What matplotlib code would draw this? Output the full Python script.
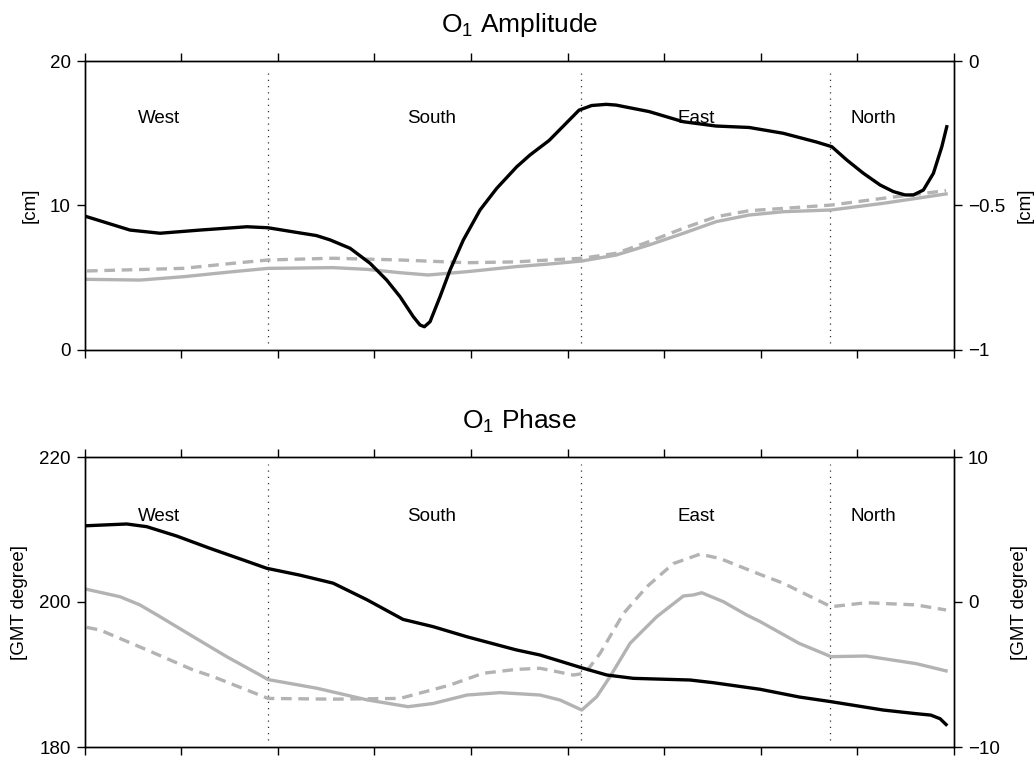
import matplotlib
matplotlib.use("Agg")
import matplotlib.pyplot as plt

plt.rcParams['font.family'] = ['Liberation Sans', 'DejaVu Sans']
plt.rcParams['mathtext.fontset'] = 'custom'
plt.rcParams['mathtext.rm'] = 'Liberation Sans'
plt.rcParams['mathtext.it'] = 'Liberation Sans'

# ---------------- data ----------------
regions = ["West", "South", "East", "North"]
region_x = [0.771, 3.597, 6.33, 8.17]
boundaries = [1.90, 5.14, 7.72]

# Amplitude panel (left-axis units, cm)
amp_black_x = [0.026, 0.471, 0.782, 1.196, 1.682, 1.900, 2.231, 2.400, 2.542, 2.749, 2.956,
               3.128, 3.266, 3.404, 3.473, 3.518, 3.577, 3.680, 3.784, 3.921, 4.094,
               4.267, 4.474, 4.612, 4.809, 5.119, 5.250, 5.399, 5.502, 5.844, 6.196,
               6.537, 6.879, 7.231, 7.573, 7.735, 7.890, 8.062, 8.235, 8.373, 8.494,
               8.580, 8.683, 8.787, 8.874, 8.925]
amp_black_y = [9.22, 8.30, 8.08, 8.30, 8.53, 8.46, 8.10, 7.92, 7.62, 7.04, 6.00,
               4.84, 3.69, 2.30, 1.73, 1.61, 1.96, 3.69, 5.54, 7.61, 9.69,
               11.19, 12.68, 13.50, 14.50, 16.60, 16.92, 17.00, 16.95, 16.50, 15.80,
               15.50, 15.40, 15.00, 14.40, 14.07, 13.15, 12.23, 11.42, 10.96, 10.73,
               10.73, 11.07, 12.23, 14.07, 15.45]

amp_solid_x = [0.026, 0.575, 1.020, 1.537, 1.900, 2.573, 2.925, 3.266, 3.556, 3.960,
               4.467, 4.809, 5.150, 5.502, 5.844, 6.196, 6.537, 6.879, 7.231, 7.728,
               8.266, 8.918]
amp_solid_y = [4.89, 4.84, 5.07, 5.42, 5.65, 5.70, 5.58, 5.35, 5.19, 5.42,
               5.77, 5.95, 6.16, 6.57, 7.27, 8.07, 8.88, 9.34, 9.57, 9.69,
               10.15, 10.80]

amp_dash_x = [0.026, 1.020, 1.537, 1.900, 2.573, 3.266, 3.960, 4.467, 4.809, 5.150,
              5.502, 5.844, 6.196, 6.537, 6.879, 7.231, 7.728, 8.266, 8.918]
amp_dash_y = [5.47, 5.65, 6.00, 6.23, 6.35, 6.23, 6.04, 6.10, 6.23, 6.35,
              6.69, 7.50, 8.42, 9.22, 9.64, 9.80, 10.03, 10.50, 11.03]

# Phase panel (left-axis units, GMT degree)
ph_black_x = [0.023, 0.437, 0.644, 0.954, 1.299, 1.644, 1.886, 2.231, 2.573, 2.925,
              3.297, 3.608, 3.960, 4.467, 4.715, 5.163, 5.406, 5.681, 6.268, 6.509,
              6.993, 7.396, 7.728, 8.266, 8.607, 8.760, 8.856, 8.918]
ph_black_y = [210.52, 210.76, 210.39, 209.10, 207.40, 205.79, 204.65, 203.70, 202.60, 200.30,
              197.60, 196.60, 195.20, 193.40, 192.69, 190.86, 189.93, 189.47, 189.24, 188.87,
              187.96, 186.90, 186.25, 185.10, 184.60, 184.40, 183.90, 183.10]

ph_solid_x = [0.023, 0.367, 0.575, 0.782, 1.126, 1.472, 1.817, 1.900, 2.407, 2.925,
              3.349, 3.608, 3.960, 4.301, 4.715, 4.922, 5.147, 5.302, 5.440, 5.647,
              5.923, 6.199, 6.302, 6.389, 6.613, 6.855, 6.993, 7.396, 7.728, 8.090,
              8.607, 8.918]
ph_solid_y = [201.75, 200.73, 199.59, 197.97, 195.21, 192.46, 189.93, 189.30, 188.10, 186.50,
              185.56, 186.00, 187.17, 187.50, 187.17, 186.48, 185.10, 186.94, 189.70, 194.30,
              197.97, 200.83, 200.97, 201.28, 200.04, 198.20, 197.30, 194.30, 192.46, 192.55,
              191.50, 190.50]

ph_dash_x = [0.023, 0.160, 0.609, 1.126, 1.333, 1.900, 2.573, 3.266, 3.784, 4.125,
             4.467, 4.715, 5.060, 5.181, 5.336, 5.578, 5.820, 6.095, 6.371, 6.578,
             6.993, 7.231, 7.728, 8.090, 8.607, 8.918]
ph_dash_y = [196.50, 196.14, 193.60, 190.62, 189.70, 186.70, 186.60, 186.70, 188.55, 190.17,
             190.70, 190.86, 189.93, 190.17, 192.90, 198.40, 202.10, 205.30, 206.60, 206.00,
             203.80, 202.60, 199.35, 199.90, 199.60, 198.90]

x_ticks = list(range(10))

amp_left_ticks = [0, 10, 20]
amp_right_ticks = [-1, -0.5, 0]
amp_right_labels = ["\u22121", "\u22120.5", "0"]
ph_left_ticks = [180, 200, 220]
ph_right_ticks = [-10, 0, 10]
ph_right_labels = ["\u221210", "0", "10"]

# ---------------- figure ----------------
fig = plt.figure(figsize=(10.36, 7.57), dpi=100)
W, H = 1036, 757
L, R = 84.5, 954

GRAY = "#b3b3b3"
lw_black = 2.4
lw_gray = 2.4
DASH = (0, (3.2, 2.0))
FS = 13.5

def setup(ax, ylim, lticks, rlim, rticks, rlabels, ylabel):
    ax.set_xlim(0, 9)
    ax.set_ylim(*ylim)
    ax.set_xticks(x_ticks)
    ax.set_xticklabels([])
    ax.set_yticks(lticks)
    ax.set_yticklabels([str(t) for t in lticks])
    ax.tick_params(axis='x', which='both', direction='out', length=6, width=1,
                   top=True, bottom=True, labelbottom=False, labeltop=False)
    ax.tick_params(axis='y', direction='out', length=6, width=1, labelsize=FS, pad=4)
    for s in ax.spines.values():
        s.set_linewidth(1.0)
    ax.set_ylabel(ylabel, fontsize=FS, labelpad=8)
    ax2 = ax.twinx()
    ax2.set_ylim(*rlim)
    ax2.set_yticks(rticks)
    ax2.set_yticklabels(rlabels)
    ax2.tick_params(axis='y', direction='out', length=6, width=1, labelsize=FS, pad=4)
    ax2.set_ylabel(ylabel, fontsize=FS, labelpad=8)
    for s in ax2.spines.values():
        s.set_linewidth(1.0)
    return ax2

# Top panel
ax1 = fig.add_axes([L / W, 1 - 350 / H, (R - L) / W, 289 / H])
setup(ax1, (0, 20), amp_left_ticks, (-1, 0), amp_right_ticks, amp_right_labels, "[cm]")
for b in boundaries:
    ax1.axvline(b, ymin=0.025, ymax=0.975, color="#333333", lw=0.9, ls=(0, (1, 4)))
ax1.plot(amp_solid_x, amp_solid_y, color=GRAY, lw=lw_gray)
ax1.plot(amp_dash_x, amp_dash_y, color=GRAY, lw=lw_gray, ls=DASH)
ax1.plot(amp_black_x, amp_black_y, color="black", lw=lw_black)
for name, xr in zip(regions, region_x):
    ax1.text(xr, 16, name, ha='center', va='center', fontsize=FS)
ax1.text(0.5, 1.0 + 36 / 289, r"O$_1$ Amplitude", transform=ax1.transAxes,
         ha='center', va='center', fontsize=19)

# Bottom panel
ax3 = fig.add_axes([L / W, 1 - 747 / H, (R - L) / W, 290 / H])
setup(ax3, (180, 220), ph_left_ticks, (-10, 10), ph_right_ticks, ph_right_labels, "[GMT degree]")
for b in boundaries:
    ax3.axvline(b, ymin=0.025, ymax=0.975, color="#333333", lw=0.9, ls=(0, (1, 4)))
ax3.plot(ph_solid_x, ph_solid_y, color=GRAY, lw=lw_gray)
ax3.plot(ph_dash_x, ph_dash_y, color=GRAY, lw=lw_gray, ls=DASH)
ax3.plot(ph_black_x, ph_black_y, color="black", lw=lw_black)
for name, xr in zip(regions, region_x):
    ax3.text(xr, 211.86, name, ha='center', va='center', fontsize=FS)
ax3.text(0.5, 1.0 + 36 / 290, r"O$_1$ Phase", transform=ax3.transAxes,
         ha='center', va='center', fontsize=19)

fig.savefig("out.png", dpi=100)
